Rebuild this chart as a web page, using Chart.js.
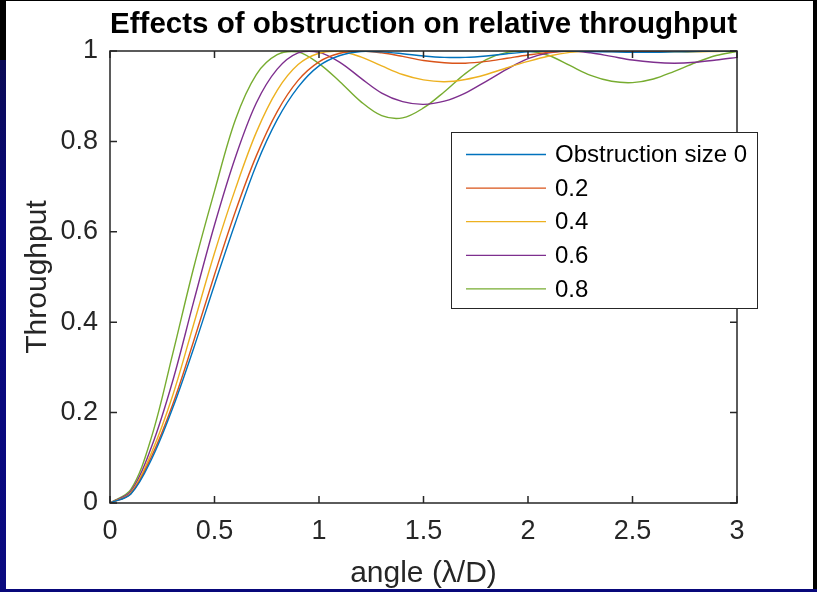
<!DOCTYPE html>
<html>
<head>
<meta charset="utf-8">
<title>Effects of obstruction on relative throughput</title>
<script src="https://cdn.jsdelivr.net/npm/chart.js@4.4.1/dist/chart.umd.min.js"></script>
<style>
    html, body { margin: 0; padding: 0; background: #fff; }
    #wrap { position: relative; width: 817px; height: 592px; overflow: hidden; }
    #chart { position: absolute; left: 0; top: 0; }
    .edge { position: absolute; }
</style>
</head>
<body>
<div id="wrap">
    <canvas id="chart" width="817" height="592"></canvas>
    <div class="edge" style="left:0;top:0;width:817px;height:1px;background:#000"></div>
    <div class="edge" style="left:0;top:0;width:6px;height:60px;background:#000"></div>
    <div class="edge" style="left:0;top:60px;width:6px;height:532px;background:linear-gradient(#0b0b55,#08087a 30%,#0a0a80)"></div>
    <div class="edge" style="left:813px;top:0;width:4px;height:592px;background:#000"></div>
    <div class="edge" style="left:0;top:589px;width:817px;height:3px;background:#08087a"></div>
</div>
<script>
// angle in lambda/D
const angles = [0, 0.1, 0.2, 0.3, 0.4, 0.5, 0.6, 0.7, 0.8, 0.9, 1.0, 1.1, 1.2, 1.3, 1.4, 1.5,
    1.6, 1.7, 1.8, 1.9, 2.0, 2.1, 2.2, 2.3, 2.4, 2.5, 2.6, 2.7, 2.8, 2.9, 3.0];

const obs0 = [0, 0.02, 0.098, 0.21, 0.342, 0.483, 0.62, 0.748, 0.848, 0.92, 0.967, 0.99, 0.999, 0.998, 0.994, 0.989,
    0.986, 0.986, 0.989, 0.994, 0.998, 1.0, 1.0, 0.999, 0.998, 0.997, 0.997, 0.998, 0.999, 1.0, 1.0];
const obs02 = [0, 0.021, 0.104, 0.218, 0.358, 0.505, 0.645, 0.768, 0.866, 0.935, 0.976, 0.995, 1.0, 0.996, 0.988, 0.979,
    0.974, 0.973, 0.977, 0.984, 0.991, 0.997, 1.0, 1.0, 0.999, 0.999, 0.999, 1.0, 1.0, 1.0, 1.0];
const obs04 = [0, 0.023, 0.113, 0.238, 0.395, 0.553, 0.695, 0.82, 0.913, 0.97, 0.995, 0.999, 0.987, 0.967, 0.948, 0.936,
    0.932, 0.937, 0.948, 0.963, 0.977, 0.989, 0.997, 1.0, 1.0, 0.999, 0.998, 0.998, 0.998, 0.999, 1.0];
const obs06 = [0, 0.026, 0.126, 0.27, 0.445, 0.615, 0.765, 0.885, 0.96, 0.996, 0.997, 0.975, 0.94, 0.907, 0.888, 0.882,
    0.889, 0.907, 0.933, 0.96, 0.983, 0.996, 1.0, 0.996, 0.988, 0.98, 0.975, 0.973, 0.975, 0.98, 0.986];
const obs08 = [0, 0.03, 0.148, 0.33, 0.52, 0.69, 0.848, 0.948, 0.992, 0.998, 0.972, 0.932, 0.888, 0.857, 0.852, 0.874,
    0.91, 0.95, 0.981, 0.997, 1.0, 0.99, 0.968, 0.946, 0.933, 0.93, 0.938, 0.955, 0.974, 0.99, 0.999];

const seriesLabels = ['Obstruction size 0', '0.2', '0.4', '0.6', '0.8'];
const seriesColors = ['#0072BD', '#D95319', '#EDB120', '#7E2F8E', '#77AC30'];
const xTicks = [0, 0.5, 1, 1.5, 2, 2.5, 3];
const yTicks = [0, 0.2, 0.4, 0.6, 0.8, 1];

const FONT = "'Liberation Sans', Arial, Helvetica, sans-serif";
const AXIS_COLOR = '#262626';

function toPoints(values) {
    return angles.map((a, i) => ({ x: a, y: values[i] }));
}

function tickText(value) {
    return String(+value.toFixed(2));
}

// matlab style box, inward ticks and the legend
const matlabFrame = {
    id: 'matlabFrame',
    afterDatasetsDraw(chart) {
        const { ctx, chartArea: a, scales: { x, y } } = chart;
        ctx.save();
        ctx.strokeStyle = AXIS_COLOR;
        ctx.lineWidth = 1.5;
        ctx.strokeRect(a.left, a.top, a.right - a.left, a.bottom - a.top);
        ctx.beginPath();
        xTicks.forEach(v => {
            const px = x.getPixelForValue(v);
            ctx.moveTo(px, a.bottom); ctx.lineTo(px, a.bottom - 7);
            ctx.moveTo(px, a.top); ctx.lineTo(px, a.top + 7);
        });
        yTicks.forEach(v => {
            const py = y.getPixelForValue(v);
            ctx.moveTo(a.left, py); ctx.lineTo(a.left + 7, py);
            ctx.moveTo(a.right, py); ctx.lineTo(a.right - 7, py);
        });
        ctx.stroke();

        // legend
        const box = { left: 451, top: 132, width: 306, height: 176 };
        ctx.fillStyle = '#fff';
        ctx.fillRect(box.left, box.top, box.width, box.height);
        ctx.lineWidth = 1;
        ctx.strokeStyle = '#262626';
        ctx.strokeRect(box.left + 0.5, box.top + 0.5, box.width, box.height);
        ctx.font = '24px ' + FONT;
        ctx.textBaseline = 'middle';
        ctx.textAlign = 'left';
        chart.data.datasets.forEach((ds, i) => {
            const rowY = 154.5 + i * 33.6;
            ctx.strokeStyle = ds.borderColor;
            ctx.lineWidth = 1.3;
            ctx.beginPath();
            ctx.moveTo(466, rowY);
            ctx.lineTo(546, rowY);
            ctx.stroke();
            ctx.fillStyle = '#000';
            ctx.fillText(ds.label, 555, rowY + 1);
        });
        ctx.restore();
    }
};

const ctx = document.getElementById('chart');
const seriesValues = [obs0, obs02, obs04, obs06, obs08];

new Chart(ctx, {
    type: 'line',
    data: {
        datasets: seriesValues.map((vals, i) => ({
            label: seriesLabels[i],
            data: toPoints(vals),
            borderColor: seriesColors[i],
            backgroundColor: seriesColors[i],
            borderWidth: 1.4,
            pointRadius: 0,
            tension: 0.35,
            fill: false
        }))
    },
    options: {
        responsive: false,
        animation: false,
        layout: { padding: { left: 0, right: 80, top: 0, bottom: 0 } },
        plugins: {
            legend: { display: false },
            tooltip: { enabled: false },
            title: {
                display: true,
                fullSize: false,
                text: 'Effects of obstruction on relative throughput',
                color: '#000',
                font: { family: FONT, size: 30, weight: 'bold' },
                padding: { top: 7, bottom: 8 }
            }
        },
        scales: {
            x: {
                type: 'linear',
                min: 0,
                max: 3,
                afterFit: scale => { scale.height = 89; },
                afterBuildTicks: scale => { scale.ticks = xTicks.map(v => ({ value: v })); },
                grid: { display: false, drawTicks: false },
                border: { display: false },
                ticks: { color: AXIS_COLOR, padding: 12, maxRotation: 0, font: { family: FONT, size: 27 }, callback: tickText },
                title: {
                    display: true,
                    text: 'angle (\u03BB/D)',
                    color: AXIS_COLOR,
                    font: { family: FONT, size: 30 },
                    padding: { top: 0, bottom: 0 }
                }
            },
            y: {
                type: 'linear',
                min: 0,
                max: 1,
                afterFit: scale => { scale.width = 110; },
                afterBuildTicks: scale => { scale.ticks = yTicks.map(v => ({ value: v })); },
                grid: { display: false, drawTicks: false },
                border: { display: false },
                ticks: { color: AXIS_COLOR, padding: 12, font: { family: FONT, size: 27 }, callback: tickText },
                title: {
                    display: true,
                    text: 'Throughput',
                    color: AXIS_COLOR,
                    font: { family: FONT, size: 30 },
                    padding: { top: 20, bottom: 0 }
                }
            }
        }
    },
    plugins: [matlabFrame]
});
</script>
</body>
</html>
